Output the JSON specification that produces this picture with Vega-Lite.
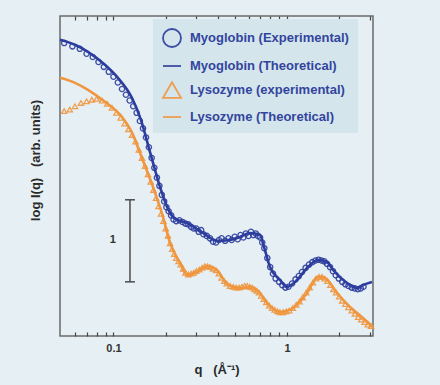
{
  "$schema": "https://vega.github.io/schema/vega-lite/v6.json",
  "width": 313,
  "height": 320,
  "autosize": "none",
  "padding": {"left": 60, "top": 16, "right": 67, "bottom": 49},
  "datasets": {
    "theo": [
      {"s": "Myoglobin (Theoretical)", "q": 0.0492, "y": 3.61},
      {"s": "Myoglobin (Theoretical)", "q": 0.06, "y": 3.549},
      {"s": "Myoglobin (Theoretical)", "q": 0.0713, "y": 3.463},
      {"s": "Myoglobin (Theoretical)", "q": 0.0893, "y": 3.305},
      {"s": "Myoglobin (Theoretical)", "q": 0.1061, "y": 3.146},
      {"s": "Myoglobin (Theoretical)", "q": 0.1278, "y": 2.902},
      {"s": "Myoglobin (Theoretical)", "q": 0.144, "y": 2.634},
      {"s": "Myoglobin (Theoretical)", "q": 0.1623, "y": 2.244},
      {"s": "Myoglobin (Theoretical)", "q": 0.1854, "y": 1.817},
      {"s": "Myoglobin (Theoretical)", "q": 0.2061, "y": 1.549},
      {"s": "Myoglobin (Theoretical)", "q": 0.2232, "y": 1.439},
      {"s": "Myoglobin (Theoretical)", "q": 0.2652, "y": 1.378},
      {"s": "Myoglobin (Theoretical)", "q": 0.3281, "y": 1.256},
      {"s": "Myoglobin (Theoretical)", "q": 0.395, "y": 1.159},
      {"s": "Myoglobin (Theoretical)", "q": 0.4693, "y": 1.171},
      {"s": "Myoglobin (Theoretical)", "q": 0.5359, "y": 1.207},
      {"s": "Myoglobin (Theoretical)", "q": 0.6119, "y": 1.256},
      {"s": "Myoglobin (Theoretical)", "q": 0.6987, "y": 1.232},
      {"s": "Myoglobin (Theoretical)", "q": 0.737, "y": 1.085},
      {"s": "Myoglobin (Theoretical)", "q": 0.798, "y": 0.841},
      {"s": "Myoglobin (Theoretical)", "q": 0.9113, "y": 0.683},
      {"s": "Myoglobin (Theoretical)", "q": 1.0, "y": 0.598},
      {"s": "Myoglobin (Theoretical)", "q": 1.142, "y": 0.683},
      {"s": "Myoglobin (Theoretical)", "q": 1.304, "y": 0.829},
      {"s": "Myoglobin (Theoretical)", "q": 1.509, "y": 0.927},
      {"s": "Myoglobin (Theoretical)", "q": 1.701, "y": 0.902},
      {"s": "Myoglobin (Theoretical)", "q": 1.842, "y": 0.805},
      {"s": "Myoglobin (Theoretical)", "q": 2.218, "y": 0.646},
      {"s": "Myoglobin (Theoretical)", "q": 2.532, "y": 0.585},
      {"s": "Myoglobin (Theoretical)", "q": 2.742, "y": 0.622},
      {"s": "Myoglobin (Theoretical)", "q": 3.09, "y": 0.659},
      {"s": "Lysozyme (Theoretical)", "q": 0.0492, "y": 3.146},
      {"s": "Lysozyme (Theoretical)", "q": 0.06, "y": 3.085},
      {"s": "Lysozyme (Theoretical)", "q": 0.0713, "y": 3.0},
      {"s": "Lysozyme (Theoretical)", "q": 0.0893, "y": 2.854},
      {"s": "Lysozyme (Theoretical)", "q": 0.1119, "y": 2.671},
      {"s": "Lysozyme (Theoretical)", "q": 0.1278, "y": 2.48},
      {"s": "Lysozyme (Theoretical)", "q": 0.1421, "y": 2.232},
      {"s": "Lysozyme (Theoretical)", "q": 0.1689, "y": 1.817},
      {"s": "Lysozyme (Theoretical)", "q": 0.1929, "y": 1.451},
      {"s": "Lysozyme (Theoretical)", "q": 0.2117, "y": 1.134},
      {"s": "Lysozyme (Theoretical)", "q": 0.2417, "y": 0.89},
      {"s": "Lysozyme (Theoretical)", "q": 0.2652, "y": 0.744},
      {"s": "Lysozyme (Theoretical)", "q": 0.3028, "y": 0.78},
      {"s": "Lysozyme (Theoretical)", "q": 0.3459, "y": 0.854},
      {"s": "Lysozyme (Theoretical)", "q": 0.395, "y": 0.805},
      {"s": "Lysozyme (Theoretical)", "q": 0.4511, "y": 0.634},
      {"s": "Lysozyme (Theoretical)", "q": 0.5359, "y": 0.585},
      {"s": "Lysozyme (Theoretical)", "q": 0.6119, "y": 0.598},
      {"s": "Lysozyme (Theoretical)", "q": 0.6987, "y": 0.524},
      {"s": "Lysozyme (Theoretical)", "q": 0.7668, "y": 0.402},
      {"s": "Lysozyme (Theoretical)", "q": 0.9113, "y": 0.293},
      {"s": "Lysozyme (Theoretical)", "q": 1.083, "y": 0.341},
      {"s": "Lysozyme (Theoretical)", "q": 1.304, "y": 0.524},
      {"s": "Lysozyme (Theoretical)", "q": 1.509, "y": 0.72},
      {"s": "Lysozyme (Theoretical)", "q": 1.656, "y": 0.707},
      {"s": "Lysozyme (Theoretical)", "q": 1.942, "y": 0.524},
      {"s": "Lysozyme (Theoretical)", "q": 2.307, "y": 0.354},
      {"s": "Lysozyme (Theoretical)", "q": 2.742, "y": 0.22},
      {"s": "Lysozyme (Theoretical)", "q": 3.13, "y": 0.11}
    ],
    "exp": [
      {"s": "Myoglobin (Experimental)", "q": 0.052, "y": 3.57},
      {"s": "Myoglobin (Experimental)", "q": 0.058, "y": 3.53},
      {"s": "Myoglobin (Experimental)", "q": 0.064, "y": 3.5},
      {"s": "Myoglobin (Experimental)", "q": 0.07, "y": 3.44},
      {"s": "Myoglobin (Experimental)", "q": 0.076, "y": 3.4},
      {"s": "Myoglobin (Experimental)", "q": 0.082, "y": 3.34},
      {"s": "Myoglobin (Experimental)", "q": 0.088, "y": 3.28},
      {"s": "Myoglobin (Experimental)", "q": 0.094, "y": 3.22},
      {"s": "Myoglobin (Experimental)", "q": 0.1, "y": 3.16},
      {"s": "Myoglobin (Experimental)", "q": 0.106, "y": 3.09},
      {"s": "Myoglobin (Experimental)", "q": 0.112, "y": 3.01},
      {"s": "Myoglobin (Experimental)", "q": 0.118, "y": 2.94},
      {"s": "Myoglobin (Experimental)", "q": 0.124, "y": 2.87},
      {"s": "Myoglobin (Experimental)", "q": 0.13, "y": 2.8},
      {"s": "Myoglobin (Experimental)", "q": 0.136, "y": 2.72},
      {"s": "Myoglobin (Experimental)", "q": 0.142, "y": 2.62},
      {"s": "Myoglobin (Experimental)", "q": 0.148, "y": 2.53},
      {"s": "Myoglobin (Experimental)", "q": 0.154, "y": 2.42},
      {"s": "Myoglobin (Experimental)", "q": 0.16, "y": 2.3},
      {"s": "Myoglobin (Experimental)", "q": 0.166, "y": 2.17},
      {"s": "Myoglobin (Experimental)", "q": 0.172, "y": 2.05},
      {"s": "Myoglobin (Experimental)", "q": 0.178, "y": 1.93},
      {"s": "Myoglobin (Experimental)", "q": 0.184, "y": 1.83},
      {"s": "Myoglobin (Experimental)", "q": 0.19, "y": 1.72},
      {"s": "Myoglobin (Experimental)", "q": 0.196, "y": 1.64},
      {"s": "Myoglobin (Experimental)", "q": 0.202, "y": 1.57},
      {"s": "Myoglobin (Experimental)", "q": 0.208, "y": 1.52},
      {"s": "Myoglobin (Experimental)", "q": 0.215, "y": 1.47},
      {"s": "Myoglobin (Experimental)", "q": 0.222, "y": 1.42},
      {"s": "Myoglobin (Experimental)", "q": 0.23, "y": 1.4},
      {"s": "Myoglobin (Experimental)", "q": 0.24, "y": 1.41},
      {"s": "Myoglobin (Experimental)", "q": 0.25, "y": 1.39},
      {"s": "Myoglobin (Experimental)", "q": 0.26, "y": 1.37},
      {"s": "Myoglobin (Experimental)", "q": 0.27, "y": 1.36},
      {"s": "Myoglobin (Experimental)", "q": 0.28, "y": 1.33},
      {"s": "Myoglobin (Experimental)", "q": 0.29, "y": 1.31},
      {"s": "Myoglobin (Experimental)", "q": 0.3, "y": 1.31},
      {"s": "Myoglobin (Experimental)", "q": 0.31, "y": 1.27},
      {"s": "Myoglobin (Experimental)", "q": 0.32, "y": 1.29},
      {"s": "Myoglobin (Experimental)", "q": 0.33, "y": 1.24},
      {"s": "Myoglobin (Experimental)", "q": 0.345, "y": 1.22},
      {"s": "Myoglobin (Experimental)", "q": 0.36, "y": 1.19},
      {"s": "Myoglobin (Experimental)", "q": 0.375, "y": 1.15},
      {"s": "Myoglobin (Experimental)", "q": 0.39, "y": 1.14},
      {"s": "Myoglobin (Experimental)", "q": 0.405, "y": 1.17},
      {"s": "Myoglobin (Experimental)", "q": 0.42, "y": 1.19},
      {"s": "Myoglobin (Experimental)", "q": 0.44, "y": 1.16},
      {"s": "Myoglobin (Experimental)", "q": 0.46, "y": 1.19},
      {"s": "Myoglobin (Experimental)", "q": 0.48, "y": 1.17},
      {"s": "Myoglobin (Experimental)", "q": 0.5, "y": 1.21},
      {"s": "Myoglobin (Experimental)", "q": 0.52, "y": 1.18},
      {"s": "Myoglobin (Experimental)", "q": 0.54, "y": 1.23},
      {"s": "Myoglobin (Experimental)", "q": 0.56, "y": 1.2},
      {"s": "Myoglobin (Experimental)", "q": 0.58, "y": 1.25},
      {"s": "Myoglobin (Experimental)", "q": 0.6, "y": 1.22},
      {"s": "Myoglobin (Experimental)", "q": 0.62, "y": 1.27},
      {"s": "Myoglobin (Experimental)", "q": 0.64, "y": 1.23},
      {"s": "Myoglobin (Experimental)", "q": 0.66, "y": 1.25},
      {"s": "Myoglobin (Experimental)", "q": 0.68, "y": 1.22},
      {"s": "Myoglobin (Experimental)", "q": 0.7, "y": 1.2},
      {"s": "Myoglobin (Experimental)", "q": 0.72, "y": 1.14},
      {"s": "Myoglobin (Experimental)", "q": 0.74, "y": 1.07},
      {"s": "Myoglobin (Experimental)", "q": 0.77, "y": 0.95},
      {"s": "Myoglobin (Experimental)", "q": 0.8, "y": 0.84},
      {"s": "Myoglobin (Experimental)", "q": 0.83, "y": 0.76},
      {"s": "Myoglobin (Experimental)", "q": 0.86, "y": 0.7},
      {"s": "Myoglobin (Experimental)", "q": 0.9, "y": 0.66},
      {"s": "Myoglobin (Experimental)", "q": 0.94, "y": 0.62},
      {"s": "Myoglobin (Experimental)", "q": 0.98, "y": 0.59},
      {"s": "Myoglobin (Experimental)", "q": 1.02, "y": 0.6},
      {"s": "Myoglobin (Experimental)", "q": 1.07, "y": 0.64},
      {"s": "Myoglobin (Experimental)", "q": 1.12, "y": 0.69},
      {"s": "Myoglobin (Experimental)", "q": 1.17, "y": 0.73},
      {"s": "Myoglobin (Experimental)", "q": 1.22, "y": 0.78},
      {"s": "Myoglobin (Experimental)", "q": 1.28, "y": 0.83},
      {"s": "Myoglobin (Experimental)", "q": 1.34, "y": 0.87},
      {"s": "Myoglobin (Experimental)", "q": 1.4, "y": 0.9},
      {"s": "Myoglobin (Experimental)", "q": 1.46, "y": 0.92},
      {"s": "Myoglobin (Experimental)", "q": 1.52, "y": 0.93},
      {"s": "Myoglobin (Experimental)", "q": 1.58, "y": 0.92},
      {"s": "Myoglobin (Experimental)", "q": 1.64, "y": 0.91},
      {"s": "Myoglobin (Experimental)", "q": 1.7, "y": 0.88},
      {"s": "Myoglobin (Experimental)", "q": 1.77, "y": 0.84},
      {"s": "Myoglobin (Experimental)", "q": 1.84, "y": 0.79},
      {"s": "Myoglobin (Experimental)", "q": 1.91, "y": 0.74},
      {"s": "Myoglobin (Experimental)", "q": 1.99, "y": 0.7},
      {"s": "Myoglobin (Experimental)", "q": 2.08, "y": 0.66},
      {"s": "Myoglobin (Experimental)", "q": 2.17, "y": 0.63},
      {"s": "Myoglobin (Experimental)", "q": 2.26, "y": 0.61},
      {"s": "Myoglobin (Experimental)", "q": 2.36, "y": 0.59},
      {"s": "Myoglobin (Experimental)", "q": 2.46, "y": 0.58},
      {"s": "Myoglobin (Experimental)", "q": 2.56, "y": 0.57},
      {"s": "Myoglobin (Experimental)", "q": 2.66, "y": 0.58},
      {"s": "Myoglobin (Experimental)", "q": 2.76, "y": 0.6},
      {"s": "Lysozyme (experimental)", "q": 0.052, "y": 2.74},
      {"s": "Lysozyme (experimental)", "q": 0.056, "y": 2.76},
      {"s": "Lysozyme (experimental)", "q": 0.06, "y": 2.8},
      {"s": "Lysozyme (experimental)", "q": 0.065, "y": 2.84},
      {"s": "Lysozyme (experimental)", "q": 0.07, "y": 2.86},
      {"s": "Lysozyme (experimental)", "q": 0.075, "y": 2.88},
      {"s": "Lysozyme (experimental)", "q": 0.08, "y": 2.89},
      {"s": "Lysozyme (experimental)", "q": 0.086, "y": 2.87},
      {"s": "Lysozyme (experimental)", "q": 0.092, "y": 2.83},
      {"s": "Lysozyme (experimental)", "q": 0.098, "y": 2.78},
      {"s": "Lysozyme (experimental)", "q": 0.104, "y": 2.72},
      {"s": "Lysozyme (experimental)", "q": 0.11, "y": 2.66},
      {"s": "Lysozyme (experimental)", "q": 0.116, "y": 2.59},
      {"s": "Lysozyme (experimental)", "q": 0.122, "y": 2.52},
      {"s": "Lysozyme (experimental)", "q": 0.128, "y": 2.45},
      {"s": "Lysozyme (experimental)", "q": 0.134, "y": 2.37},
      {"s": "Lysozyme (experimental)", "q": 0.14, "y": 2.27},
      {"s": "Lysozyme (experimental)", "q": 0.146, "y": 2.17},
      {"s": "Lysozyme (experimental)", "q": 0.152, "y": 2.07},
      {"s": "Lysozyme (experimental)", "q": 0.158, "y": 1.97},
      {"s": "Lysozyme (experimental)", "q": 0.164, "y": 1.88},
      {"s": "Lysozyme (experimental)", "q": 0.17, "y": 1.78},
      {"s": "Lysozyme (experimental)", "q": 0.176, "y": 1.68},
      {"s": "Lysozyme (experimental)", "q": 0.182, "y": 1.58},
      {"s": "Lysozyme (experimental)", "q": 0.188, "y": 1.49},
      {"s": "Lysozyme (experimental)", "q": 0.194, "y": 1.4},
      {"s": "Lysozyme (experimental)", "q": 0.2, "y": 1.31},
      {"s": "Lysozyme (experimental)", "q": 0.206, "y": 1.22},
      {"s": "Lysozyme (experimental)", "q": 0.212, "y": 1.13},
      {"s": "Lysozyme (experimental)", "q": 0.218, "y": 1.06},
      {"s": "Lysozyme (experimental)", "q": 0.224, "y": 1.0},
      {"s": "Lysozyme (experimental)", "q": 0.23, "y": 0.95},
      {"s": "Lysozyme (experimental)", "q": 0.237, "y": 0.91},
      {"s": "Lysozyme (experimental)", "q": 0.244, "y": 0.87},
      {"s": "Lysozyme (experimental)", "q": 0.252, "y": 0.82},
      {"s": "Lysozyme (experimental)", "q": 0.26, "y": 0.77},
      {"s": "Lysozyme (experimental)", "q": 0.27, "y": 0.75},
      {"s": "Lysozyme (experimental)", "q": 0.28, "y": 0.76},
      {"s": "Lysozyme (experimental)", "q": 0.29, "y": 0.77},
      {"s": "Lysozyme (experimental)", "q": 0.3, "y": 0.79},
      {"s": "Lysozyme (experimental)", "q": 0.312, "y": 0.81},
      {"s": "Lysozyme (experimental)", "q": 0.324, "y": 0.83},
      {"s": "Lysozyme (experimental)", "q": 0.336, "y": 0.85},
      {"s": "Lysozyme (experimental)", "q": 0.348, "y": 0.85},
      {"s": "Lysozyme (experimental)", "q": 0.36, "y": 0.84},
      {"s": "Lysozyme (experimental)", "q": 0.375, "y": 0.82},
      {"s": "Lysozyme (experimental)", "q": 0.39, "y": 0.8},
      {"s": "Lysozyme (experimental)", "q": 0.405, "y": 0.76},
      {"s": "Lysozyme (experimental)", "q": 0.42, "y": 0.71},
      {"s": "Lysozyme (experimental)", "q": 0.435, "y": 0.67},
      {"s": "Lysozyme (experimental)", "q": 0.45, "y": 0.64},
      {"s": "Lysozyme (experimental)", "q": 0.47, "y": 0.61},
      {"s": "Lysozyme (experimental)", "q": 0.49, "y": 0.6},
      {"s": "Lysozyme (experimental)", "q": 0.51, "y": 0.59},
      {"s": "Lysozyme (experimental)", "q": 0.53, "y": 0.59},
      {"s": "Lysozyme (experimental)", "q": 0.55, "y": 0.6},
      {"s": "Lysozyme (experimental)", "q": 0.57, "y": 0.61},
      {"s": "Lysozyme (experimental)", "q": 0.59, "y": 0.61},
      {"s": "Lysozyme (experimental)", "q": 0.61, "y": 0.6},
      {"s": "Lysozyme (experimental)", "q": 0.63, "y": 0.59},
      {"s": "Lysozyme (experimental)", "q": 0.65, "y": 0.57},
      {"s": "Lysozyme (experimental)", "q": 0.67, "y": 0.55},
      {"s": "Lysozyme (experimental)", "q": 0.69, "y": 0.53},
      {"s": "Lysozyme (experimental)", "q": 0.71, "y": 0.49},
      {"s": "Lysozyme (experimental)", "q": 0.735, "y": 0.45},
      {"s": "Lysozyme (experimental)", "q": 0.76, "y": 0.41},
      {"s": "Lysozyme (experimental)", "q": 0.79, "y": 0.37},
      {"s": "Lysozyme (experimental)", "q": 0.82, "y": 0.34},
      {"s": "Lysozyme (experimental)", "q": 0.85, "y": 0.32},
      {"s": "Lysozyme (experimental)", "q": 0.88, "y": 0.3},
      {"s": "Lysozyme (experimental)", "q": 0.91, "y": 0.29},
      {"s": "Lysozyme (experimental)", "q": 0.95, "y": 0.29},
      {"s": "Lysozyme (experimental)", "q": 0.99, "y": 0.3},
      {"s": "Lysozyme (experimental)", "q": 1.03, "y": 0.31},
      {"s": "Lysozyme (experimental)", "q": 1.08, "y": 0.34},
      {"s": "Lysozyme (experimental)", "q": 1.13, "y": 0.38},
      {"s": "Lysozyme (experimental)", "q": 1.18, "y": 0.42},
      {"s": "Lysozyme (experimental)", "q": 1.23, "y": 0.47},
      {"s": "Lysozyme (experimental)", "q": 1.29, "y": 0.53},
      {"s": "Lysozyme (experimental)", "q": 1.35, "y": 0.59},
      {"s": "Lysozyme (experimental)", "q": 1.41, "y": 0.65},
      {"s": "Lysozyme (experimental)", "q": 1.47, "y": 0.7},
      {"s": "Lysozyme (experimental)", "q": 1.53, "y": 0.72},
      {"s": "Lysozyme (experimental)", "q": 1.59, "y": 0.72},
      {"s": "Lysozyme (experimental)", "q": 1.65, "y": 0.7},
      {"s": "Lysozyme (experimental)", "q": 1.71, "y": 0.67},
      {"s": "Lysozyme (experimental)", "q": 1.78, "y": 0.62},
      {"s": "Lysozyme (experimental)", "q": 1.85, "y": 0.57},
      {"s": "Lysozyme (experimental)", "q": 1.92, "y": 0.53},
      {"s": "Lysozyme (experimental)", "q": 2.0, "y": 0.48},
      {"s": "Lysozyme (experimental)", "q": 2.08, "y": 0.43},
      {"s": "Lysozyme (experimental)", "q": 2.17, "y": 0.39},
      {"s": "Lysozyme (experimental)", "q": 2.26, "y": 0.35},
      {"s": "Lysozyme (experimental)", "q": 2.36, "y": 0.31},
      {"s": "Lysozyme (experimental)", "q": 2.46, "y": 0.27},
      {"s": "Lysozyme (experimental)", "q": 2.57, "y": 0.23},
      {"s": "Lysozyme (experimental)", "q": 2.68, "y": 0.2},
      {"s": "Lysozyme (experimental)", "q": 2.8, "y": 0.17},
      {"s": "Lysozyme (experimental)", "q": 2.92, "y": 0.14},
      {"s": "Lysozyme (experimental)", "q": 3.05, "y": 0.12}
    ],
    "bar": [{"q": 0.1245, "y": 0.66, "y2": 1.66}],
    "caps": [{"q": 0.1165, "q2": 0.133, "y": 0.66}, {"q": 0.1165, "q2": 0.133, "y": 1.66}],
    "lab": [{"q": 0.0993, "y": 1.17, "t": "1"}]
  },
  "layer": [
    {
      "data": {"name": "exp"},
      "mark": {"type": "point", "filled": false, "size": 28, "strokeWidth": 1.3, "opacity": 0.9},
      "encoding": {
        "x": {"field": "q", "type": "quantitative", "scale": {"type": "log", "domain": [0.0492, 3.13], "nice": false},
          "axis": {"orient": "bottom", "title": "q\u00a0\u00a0\u00a0(Å⁻¹)", "offset": -4, "ticks": true, "tickSize": 4, "tickColor": "#444444", "tickWidth": 1.2, "labelPadding": 6, "values": [0.06, 0.07, 0.08, 0.09, 0.1, 0.2, 0.3, 0.4, 0.5, 0.6, 0.7, 0.8, 0.9, 1, 2, 3],
            "labelExpr": "datum.value == 0.1 ? '0.1' : (datum.value == 1 ? '1' : '')", "labelOverlap": false, "labelFlush": false}},
        "y": {"field": "y", "type": "quantitative", "title": "log I(q)\u00a0\u00a0\u00a0(arb. units)", "scale": {"domain": [0, 3.9], "nice": false, "zero": false}},
        "color": {"field": "s", "type": "nominal",
          "scale": {"domain": ["Myoglobin (Experimental)", "Myoglobin (Theoretical)", "Lysozyme (experimental)", "Lysozyme (Theoretical)"], "range": ["#2d3d9e", "#2d3d9e", "#f0963e", "#f0963e"]},
          "legend": {"title": null}},
        "shape": {"field": "s", "type": "nominal",
          "scale": {"domain": ["Myoglobin (Experimental)", "Myoglobin (Theoretical)", "Lysozyme (experimental)", "Lysozyme (Theoretical)"], "range": ["circle", "stroke", "triangle-up", "stroke"]},
          "legend": null}
      }
    },
    {
      "data": {"name": "theo"},
      "mark": {"type": "line", "strokeWidth": 2.6, "interpolate": "monotone"},
      "encoding": {
        "x": {"field": "q", "type": "quantitative", "scale": {"type": "log", "domain": [0.0492, 3.13], "nice": false},
          "axis": {"orient": "top", "title": null, "labels": false, "offset": -4, "ticks": true, "tickSize": 4, "tickColor": "#444444", "tickWidth": 1.2, "values": [0.06, 0.07, 0.08, 0.09, 0.1, 0.2, 0.3, 0.4, 0.5, 0.6, 0.7, 0.8, 0.9, 1, 2, 3]}},
        "y": {"field": "y", "type": "quantitative", "title": "log I(q)\u00a0\u00a0\u00a0(arb. units)", "scale": {"domain": [0, 3.9], "nice": false, "zero": false}},
        "color": {"field": "s", "type": "nominal", "legend": null},
        "detail": {"field": "s", "type": "nominal"}
      }
    },
    {
      "data": {"name": "bar"},
      "mark": {"type": "rule", "color": "#4a4a4a", "strokeWidth": 1.5},
      "encoding": {
        "x": {"field": "q", "type": "quantitative", "axis": null, "scale": {"type": "log", "domain": [0.0492, 3.13], "nice": false}},
        "y": {"field": "y", "type": "quantitative", "title": "log I(q)\u00a0\u00a0\u00a0(arb. units)", "scale": {"domain": [0, 3.9], "nice": false, "zero": false}},
        "y2": {"field": "y2"}
      }
    },
    {
      "data": {"name": "caps"},
      "mark": {"type": "rule", "color": "#4a4a4a", "strokeWidth": 1.5},
      "encoding": {
        "x": {"field": "q", "type": "quantitative", "axis": null, "scale": {"type": "log", "domain": [0.0492, 3.13], "nice": false}},
        "x2": {"field": "q2"},
        "y": {"field": "y", "type": "quantitative", "title": "log I(q)\u00a0\u00a0\u00a0(arb. units)", "scale": {"domain": [0, 3.9], "nice": false, "zero": false}}
      }
    },
    {
      "data": {"name": "lab"},
      "mark": {"type": "text", "font": "Liberation Sans", "fontWeight": "bold", "fontSize": 11, "color": "#333333"},
      "encoding": {
        "x": {"field": "q", "type": "quantitative", "axis": null, "scale": {"type": "log", "domain": [0.0492, 3.13], "nice": false}},
        "y": {"field": "y", "type": "quantitative", "title": "log I(q)\u00a0\u00a0\u00a0(arb. units)", "scale": {"domain": [0, 3.9], "nice": false, "zero": false}},
        "text": {"field": "t"}
      }
    }
  ],
  "resolve": {"axis": {"x": "independent"}},
  "config": {
    "background": "#e6f0f4",
    "view": {"stroke": "#6a6a6a", "strokeWidth": 1.5},
    "font": "Liberation Sans",
    "axis": {"labelFont": "Liberation Sans", "labelFontWeight": "bold", "labelFontSize": 11, "labelColor": "#333333",
      "titleFont": "Liberation Sans", "titleFontWeight": "bold", "titleFontSize": 13, "titleColor": "#2a2a2a",
      "domain": false, "grid": false},
    "axisX": {"titlePadding": 10},
    "axisY": {"labels": false, "ticks": false, "titleX": -18, "titleY": 144, "titleAlign": "center"},
    "legend": {"orient": "none", "legendX": 93, "legendY": 3, "fillColor": "#d4e6eb", "padding": 9,
      "symbolSize": 324, "labelFont": "Liberation Sans", "labelFontSize": 13, "labelFontWeight": "bold",
      "labelColor": "#33449f", "labelOffset": 8, "rowPadding": 5, "symbolStrokeWidth": 1.8}
  }
}
